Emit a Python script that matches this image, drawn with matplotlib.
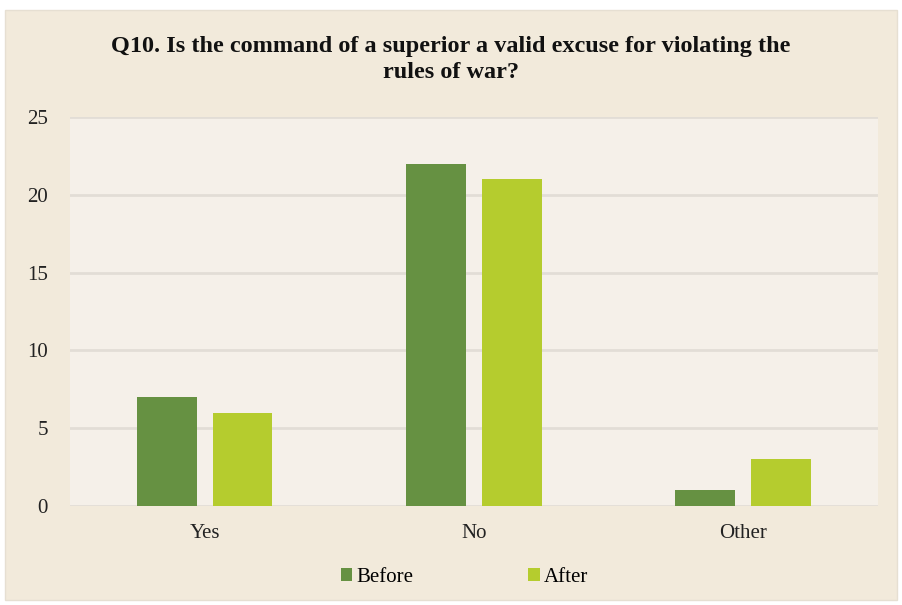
import matplotlib
matplotlib.use("Agg")
import matplotlib.pyplot as plt
import numpy as np
from matplotlib.patches import Rectangle

# survey answers
categories = ["Yes", "No", "Other"]
before = [7, 22, 1]
after = [6, 21, 3]
yticks = [0, 5, 10, 15, 20, 25]

plt.rcParams["font.family"] = ["Liberation Serif", "DejaVu Serif"]

fig = plt.figure(figsize=(9.02, 6.05), dpi=100, facecolor="white")
# beige chart frame
fig.patches.append(Rectangle((5 / 902, 5 / 605), 892 / 902, 590 / 605,
                             transform=fig.transFigure, facecolor="#f2eadb",
                             edgecolor="#e6dfd2", linewidth=1, zorder=-5))

ax = fig.add_axes([0.0776, 0.1636, 0.8954, 0.643], zorder=2)
ax.set_facecolor("#f5f0e9")

x = np.arange(len(categories))
w = 0.222
ax.bar(x - 0.141, before, w, color="#669142", label="Before", zorder=3)
ax.bar(x + 0.141, after, w, color="#b5cc2e", label="After", zorder=3)

ax.set_xlim(-0.5, 2.5)
ax.set_ylim(0, 25)
ax.set_yticks(yticks)
ax.set_xticks(x)
ax.set_xticklabels(categories)
ax.tick_params(length=0, labelsize=15, colors="#222222")
ax.tick_params(axis="y", pad=16)
ax.tick_params(axis="x", pad=13)
ax.grid(axis="y", color="#e2ddd6", linewidth=2)
ax.set_axisbelow(True)
for s in ax.spines.values():
    s.set_visible(False)

fig.text(0.5, 0.902, "Q10. Is the command of a superior a valid excuse for violating the\nrules of war?",
         ha="center", va="center", fontsize=17.5, fontweight="bold", color="#111111",
         linespacing=1.3, zorder=3)

fig.legend(loc="center", bbox_to_anchor=(0.515, 0.046), ncol=2, frameon=False,
           fontsize=15, handlelength=0.55, handleheight=0.55, handletextpad=0.2,
           columnspacing=5.5)

fig.savefig("out.png", dpi=100, facecolor=fig.get_facecolor())
